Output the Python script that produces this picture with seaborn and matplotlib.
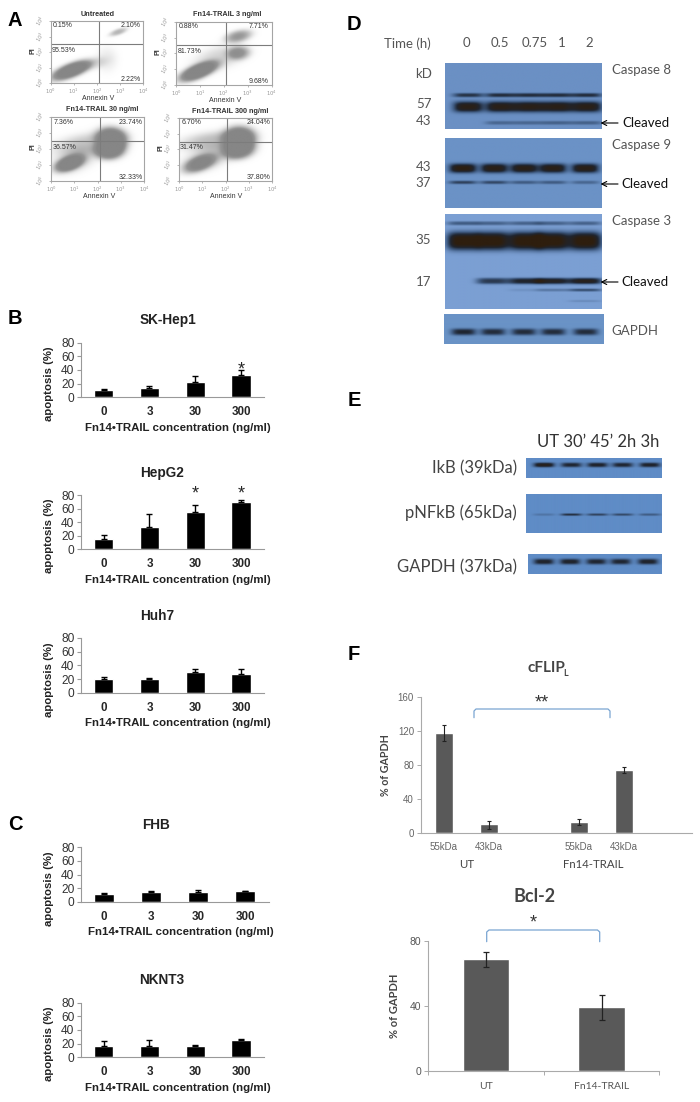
import numpy as np
import pandas as pd
import matplotlib
matplotlib.use('Agg')
import matplotlib.pyplot as plt
from matplotlib.colors import LinearSegmentedColormap
import seaborn as sns

W, H = 700, 1102

# B / C apoptosis bars (mean, upper error)
doses = ['0', '3', '30', '300']
skhep1_vals = [10.5, 14, 23, 32.5]
skhep1_errs = [1.5, 2, 8, 8]
hepg2_vals = [14.5, 33.5, 55, 69.5]
hepg2_errs = [7, 18, 11, 3]
huh7_vals = [19.5, 20.5, 30.5, 27.5]
huh7_errs = [3, 0.5, 4, 7]
fhb_vals = [11, 14.5, 14.5, 15.5]
fhb_errs = [1.5, 1, 3, 0.5]
nknt3_vals = [16, 16.5, 16, 25.5]
nknt3_errs = [8.5, 9, 2.5, 2]

# F densitometry
cflip_cats = ['UT 55', 'UT 43', 'gap', 'Fn14 55', 'Fn14 43', 'end']
cflip_labels = ['55kDa', '43kDa', '', '55kDa', '43kDa', '']
cflip_vals = [118, 10.5, np.nan, 13, 74, np.nan]
cflip_low = [9.5, 5.5, np.nan, 3, 3.5, np.nan]
cflip_high = [10, 4.5, np.nan, 3.5, 4.5, np.nan]
bcl2_cats = ['UT', 'Fn14-TRAIL']
bcl2_vals = [69, 39]
bcl2_low = [5, 8]
bcl2_high = [4, 8]

# A flow cytometry: quadrant percentages UL, UR, LL, LR
flow_titles = ['Untreated', 'Fn14-TRAIL 3 ng/ml', 'Fn14-TRAIL 30 ng/ml', 'Fn14-TRAIL 300 ng/ml']
flow_pcts = [['0.15%', '2.10%', '95.53%', '2.22%'],
             ['0.88%', '7.71%', '81.73%', '9.68%'],
             ['7.36%', '23.74%', '36.57%', '32.33%'],
             ['6.70%', '24.04%', '31.47%', '37.80%']]
# gate position in log decades (x, y)
flow_gates = [(2.1, 2.55), (2.07, 2.5), (2.1, 2.5), (2.08, 2.45)]
# cell populations: x, y, long sd, short sd, angle, density
flow_clouds = [
    [(0.88, 0.8, 0.72, 0.3, 33, 1.5), (2.9, 3.25, 0.32, 0.14, 30, 0.45), (2.4, 1.5, 0.35, 0.6, 0, 0.12), (1.9, 1.2, 0.5, 0.25, 30, 0.15)],
    [(0.93, 0.84, 0.68, 0.3, 35, 1.5), (2.6, 2.0, 0.37, 0.32, 20, 0.65), (2.6, 3.05, 0.45, 0.27, 25, 0.65), (1.8, 1.7, 0.9, 0.5, 30, 0.25)],
    [(0.8, 1.1, 0.52, 0.3, 35, 1.3), (2.61, 2.67, 0.48, 0.52, 40, 1.4), (2.53, 1.94, 0.48, 0.42, 20, 1.4), (1.5, 2.3, 1.1, 0.5, 15, 0.35), (1.0, 1.3, 0.8, 0.5, 35, 0.3)],
    [(0.9, 1.1, 0.6, 0.32, 35, 0.95), (2.6, 2.7, 0.52, 0.52, 40, 1.4), (2.55, 1.96, 0.52, 0.42, 20, 1.3), (1.5, 2.5, 1.1, 0.45, 10, 0.4), (1.2, 1.4, 0.9, 0.5, 30, 0.3)],
]

# D / E blots: lane centres, then rows of (row centre, half height, lane intensities)
casp8_lanes = [0.147, 0.354, 0.537, 0.718, 0.904]
casp8_rows = [(0.487, 0.032, [0.8, 0.85, 0.85, 0.85, 0.85]),
              (0.665, 0.085, [1.15, 1.15, 1.15, 1.15, 1.15]),
              (0.909, 0.028, [0, 0.4, 0.4, 0.45, 0.45])]
casp9_lanes = [0.113, 0.313, 0.504, 0.687, 0.894]
casp9_rows = [(0.44, 0.068, [1.2, 1.15, 1.15, 1.15, 1.15]),
              (0.64, 0.024, [0.7, 0.65, 0.5, 0.5, 0.4])]
casp3_lanes = [0.117, 0.304, 0.511, 0.687, 0.894]
casp3_rows = [(0.105, 0.02, [0.5, 0.45, 0.45, 0.45, 0.45]),
              (0.29, 0.095, [1.3, 1.3, 1.3, 1.3, 1.3]),
              (0.71, 0.032, [0, 0.75, 0.95, 1.05, 1.1]),
              (0.804, 0.015, [0, 0, 0.1, 0.3, 0.6]),
              (0.92, 0.012, [0, 0, 0, 0, 0.15])]
gapdh_d_lanes = [0.122, 0.306, 0.499, 0.683, 0.887]
gapdh_d_rows = [(0.61, 0.11, [0.9, 0.85, 0.85, 0.85, 0.85])]
ikb_lanes = [0.132, 0.333, 0.525, 0.711, 0.912]
ikb_rows = [(0.345, 0.12, [1.1, 0.9, 0.95, 0.9, 0.95])]
pnfkb_rows = [(0.54, 0.03, [0.25, 0.85, 0.7, 0.65, 0.5])]
gapdh_e_lanes = [0.117, 0.313, 0.51, 0.692, 0.896]
gapdh_e_rows = [(0.41, 0.14, [0.95, 0.95, 0.9, 0.9, 0.95])]

sns.set_style('ticks')
plt.rcParams['font.family'] = ['Liberation Sans', 'DejaVu Sans']
CALIBRI = ['Lato', 'DejaVu Sans']

fig = plt.figure(figsize=(W / 100, H / 100), dpi=100)
fig.patch.set_facecolor('white')


def px_axes(left, top, right, bottom):
    return fig.add_axes([left / W, 1 - bottom / H, (right - left) / W, (bottom - top) / H])


# overlay in picture pixels, used for labels only
ov = fig.add_axes([0, 0, 1, 1], zorder=10)
ov.set_xlim(0, W)
ov.set_ylim(H, 0)
ov.axis('off')
ov.patch.set_alpha(0)


def label(x, y, s, **kw):
    kw.setdefault('ha', 'center')
    kw.setdefault('va', 'center')
    ov.text(x, y, s, **kw)


def apoptosis_panel(rect, title, vals, errs, title_x, stars=()):
    left, top, right, bottom = rect
    ax = px_axes(left, top, right, bottom)
    df = pd.DataFrame({'dose': doses, 'value': vals})
    sns.barplot(data=df, x='dose', y='value', color='black', saturation=1, width=0.42,
                errorbar=None, ax=ax)
    ax.errorbar(range(4), vals, yerr=[[0] * 4, errs], fmt='none', ecolor='black',
                elinewidth=1, capsize=2.2, capthick=1, clip_on=False)
    ax.set_xlim(-0.5, 3.5)
    ax.set_ylim(0, 80)
    ax.set_yticks([0, 20, 40, 60, 80])
    ax.set_xlabel('')
    ax.set_ylabel('')
    ax.tick_params(axis='x', length=0, pad=6.5, labelsize=8.4)
    ax.tick_params(axis='y', length=3, width=0.8, color='#999999', pad=1.5, labelsize=8.6,
                   labelcolor='#333333')
    for t in ax.get_xticklabels():
        t.set_fontweight('bold')
    sns.despine(ax=ax)
    ax.spines['left'].set_color('#999999')
    ax.spines['bottom'].set_color('#999999')
    for pos, level in stars:
        ax.text(pos, level, '*', ha='center', va='center', fontsize=13, clip_on=False)
    label(title_x, top - 22.5, title, fontsize=9.8, fontweight='bold', color='#222222')
    label((left + right) / 2 + 6, bottom + 30.5, 'Fn14•TRAIL concentration (ng/ml)', fontsize=8.25,
          fontweight='bold', color='#222222')
    label(48.5, (top + bottom) / 2 + 14, 'apoptosis (%)', rotation=90, fontsize=8.2,
          fontweight='bold', color='#222222')


def flow_panel(rect, title, title_xy, pcts, gate, clouds):
    left, top, right, bottom = rect
    ax = px_axes(left, top, right, bottom)
    xs, ys = np.meshgrid(np.linspace(0, 4, 240), np.linspace(0, 4, 180))
    dens = np.zeros_like(xs)
    for cx, cy, long_sd, short_sd, angle, level in clouds:
        a = np.deg2rad(angle)
        u = np.cos(a) * (xs - cx) + np.sin(a) * (ys - cy)
        v = -np.sin(a) * (xs - cx) + np.cos(a) * (ys - cy)
        dens += level * np.exp(-0.5 * ((u / long_sd) ** 2 + (v / short_sd) ** 2) ** 1.4)
    cmap = LinearSegmentedColormap.from_list('flow', ['#ffffff', '#c8c8c8', '#959595', '#868686'])
    ax.imshow(dens, extent=(0, 4, 0, 4), origin='lower', aspect='auto', cmap=cmap, vmin=0, vmax=1,
              interpolation='bilinear')
    ax.axvline(gate[0], color='#7c7c7c', lw=0.8)
    ax.axhline(gate[1], color='#7c7c7c', lw=0.8)
    ax.set_xlim(0, 4)
    ax.set_ylim(0, 4)
    ticks = [0, 1, 2, 3, 4]
    ax.set_xticks(ticks, [f'$10^{t}$' for t in ticks])
    ax.set_yticks(ticks, [f'$10^{t}$' for t in ticks], rotation=60, va='center')
    ax.tick_params(length=1.5, width=0.5, color='#999999', labelsize=3.8, labelcolor='#999999',
                   pad=1)
    for s in ax.spines.values():
        s.set_color('#a5a5a5')
        s.set_linewidth(0.8)
    spots = [(0.13, 0.92), (0.86, 0.92), (0.14, 0.53), (0.86, 0.06)]
    for (fx, fy), txt in zip(spots, pcts):
        ax.text(fx, fy, txt, transform=ax.transAxes, ha='center', va='center', fontsize=5,
                color='#333333')
    label(title_xy[0], title_xy[1], title, fontsize=5.2, fontweight='bold', color='#333333')
    label((left + right) / 2 + 1, bottom + 15.5, 'Annexin V', fontsize=5, color='#333333')
    label(left - 18, (top + bottom) / 2 - 2, 'PI', rotation=90, fontsize=5, fontweight='bold',
          color='#333333')


def blot(rect, lanes, rows, half_w, bg):
    ax = px_axes(*rect)
    xs, ys = np.meshgrid(np.linspace(0, 1, 320), np.linspace(0, 1, 160))
    img = np.zeros_like(xs)
    for row_y, half_h, levels in rows:
        for lane, level in zip(lanes, levels):
            img += level * np.exp(-np.abs((xs - lane) / half_w) ** 4) * np.exp(-np.abs((ys - row_y) / half_h) ** 3)
    cmap = LinearSegmentedColormap.from_list('blot', [(0, bg), (0.4, '#3f5b82'), (0.72, '#1f2530'), (1, '#2e1e0e')])
    ax.imshow(img, extent=(0, 1, 1, 0), aspect='auto', cmap=cmap, vmin=0, vmax=1.25,
              interpolation='bilinear')
    ax.axis('off')


# --- A
flow_rects = [(50.7, 21, 143.3, 83.3), (176, 21.7, 271.7, 85), (51.3, 117, 144, 181), (179, 117.7, 272, 181)]
flow_title_xy = [(98, 14), (226.7, 15), (102, 109.3), (230, 111.3)]
for i in range(4):
    flow_panel(flow_rects[i], flow_titles[i], flow_title_xy[i], flow_pcts[i], flow_gates[i], flow_clouds[i])

# --- B, C
apoptosis_panel((80.7, 342.7, 264, 397.3), 'SK-Hep1', skhep1_vals, skhep1_errs, 168, stars=[(3, 40)])
apoptosis_panel((80.7, 495, 264, 549.3), 'HepG2', hepg2_vals, hepg2_errs, 162, stars=[(2, 81.5), (3, 81.5)])
apoptosis_panel((80.7, 638, 264, 692.7), 'Huh7', huh7_vals, huh7_errs, 157)
apoptosis_panel((80.7, 847.3, 268.7, 901.7), 'FHB', fhb_vals, fhb_errs, 156)
apoptosis_panel((80.7, 1002.7, 264, 1057.3), 'NKNT3', nknt3_vals, nknt3_errs, 162)

# --- D
blot((445.3, 63, 601.7, 128.7), casp8_lanes, casp8_rows, 0.098, '#6b90c4')
blot((445, 137.7, 601.7, 208), casp9_lanes, casp9_rows, 0.09, '#6b92c6')
blot((445, 214, 601.7, 309.3), casp3_lanes, casp3_rows, 0.105, '#7b9fd3')
blot((444, 313.7, 603, 343.7), gapdh_d_lanes, gapdh_d_rows, 0.08, '#6a93c6')

GREY = '#555555'
label(407.7, 43.3, 'Time (h)', fontsize=9.5, color=GREY, family=CALIBRI)
for x, s in zip([466, 500, 535, 561.7, 589], ['0', '0.5', '0.75', '1', '2']):
    label(x, 43.3, s, fontsize=9.5, color=GREY, family=CALIBRI)
for y, s in zip([74, 104, 120.7, 166.7, 183, 240, 282], ['kD', '57', '43', '43', '37', '35', '17']):
    label(423.5, y, s, fontsize=9.5, color=GREY, family=CALIBRI)
for y, s in zip([70, 145, 221, 331], ['Caspase 8', 'Caspase 9', 'Caspase 3', 'GAPDH']):
    label(611.7, y, s, ha='left', fontsize=9.5, color=GREY, family=CALIBRI)
for y, tx in zip([123, 184, 282], [622, 621, 621]):
    ov.annotate('', xy=(600.5, y), xytext=(618, y),
                arrowprops=dict(arrowstyle='->', color='black', lw=0.8, shrinkA=0, shrinkB=0, mutation_scale=9))
    label(tx, y, 'Cleaved', ha='left', fontsize=9.5, color='#111111', family=CALIBRI)

# --- E
blot((526, 458.3, 662, 477.7), ikb_lanes, ikb_rows, 0.08, '#5f8cc6')
blot((526, 494, 662, 533.3), ikb_lanes, pnfkb_rows, 0.08, '#5f8cc6')
blot((528, 554, 662, 574.3), gapdh_e_lanes, gapdh_e_rows, 0.08, '#5f8cc6')
label(598.5, 442, 'UT 30’ 45’ 2h 3h', fontsize=12, color='#333333', family=CALIBRI)
for y, s in zip([468, 512.7, 567], ['IkB (39kDa)', 'pNFkB (65kDa)', 'GAPDH (37kDa)']):
    label(516.7, y, s, ha='right', fontsize=12, color='#444444', family=CALIBRI)

# --- F cFLIP
ax = px_axes(421, 697.3, 691.7, 833.3)
cflip_df = pd.DataFrame({'band': cflip_cats, 'value': cflip_vals})
sns.barplot(data=cflip_df, x='band', y='value', color='#595959', saturation=1, width=0.4,
            errorbar=None, ax=ax)
ax.errorbar(range(6), cflip_vals, yerr=[cflip_low, cflip_high], fmt='none', ecolor='#222222',
            elinewidth=0.8, capsize=1.6, capthick=0.8)
ax.set_xlim(-0.5, 5.5)
ax.set_ylim(0, 160)
ax.set_yticks([0, 40, 80, 120, 160])
ax.set_xticks(range(6), cflip_labels)
ax.set_xlabel('')
ax.set_ylabel('')
ax.tick_params(axis='x', length=0, pad=6, labelsize=7, labelcolor='#666666')
ax.tick_params(axis='y', length=3, width=0.7, color='#aaaaaa', pad=2, labelsize=7, labelcolor='#666666')
sns.despine(ax=ax)
ax.spines['left'].set_color('#aaaaaa')
ax.spines['bottom'].set_color('#aaaaaa')

label(546.5, 668, 'cFLIP', fontsize=11, fontweight='bold', color='#444444', family=CALIBRI)
label(566, 673, 'L', fontsize=6.5, fontweight='bold', color='#444444', family=CALIBRI)
label(467, 864, 'UT', fontsize=8.2, color='#444444', family=CALIBRI)
label(593, 864, 'Fn14-TRAIL', fontsize=8.2, color='#444444', family=CALIBRI)
label(385.7, 765, '% of GAPDH', rotation=90, fontsize=7.7, fontweight='bold', color='#444444', family=CALIBRI)
label(542, 703, '**', fontsize=13, color='#333333')
ov.plot([474, 474, 476, 608, 610, 610], [717.7, 711, 709, 709, 711, 717.7], color='#7aa5d2', lw=0.9)

# --- F Bcl-2
ax = px_axes(428.3, 941, 659.3, 1070.7)
bcl2_df = pd.DataFrame({'group': bcl2_cats, 'value': bcl2_vals})
sns.barplot(data=bcl2_df, x='group', y='value', color='#595959', saturation=1, width=0.4,
            errorbar=None, ax=ax)
ax.errorbar(range(2), bcl2_vals, yerr=[bcl2_low, bcl2_high], fmt='none', ecolor='#222222',
            elinewidth=0.9, capsize=2.2, capthick=0.9)
ax.set_xlim(-0.5, 1.5)
ax.set_ylim(0, 80)
ax.set_yticks([0, 40, 80])
ax.set_xticks([-0.5, 0.5, 1.5], minor=True)
ax.set_xlabel('')
ax.set_ylabel('')
ax.tick_params(axis='x', which='major', length=0, pad=8, labelsize=7.5, labelcolor='#555555')
ax.tick_params(axis='x', which='minor', length=3, width=0.7, color='#aaaaaa')
ax.tick_params(axis='y', length=3, width=0.7, color='#aaaaaa', pad=2, labelsize=7.5, labelcolor='#555555')
for t in ax.get_xticklabels():
    t.set_family(CALIBRI)
sns.despine(ax=ax)
ax.spines['left'].set_color('#aaaaaa')
ax.spines['bottom'].set_color('#aaaaaa')

label(534.7, 897, 'Bcl-2', fontsize=13, fontweight='bold', color='#444444', family=CALIBRI)
label(394, 1006, '% of GAPDH', rotation=90, fontsize=8, fontweight='bold', color='#444444', family=CALIBRI)
label(533, 923, '*', fontsize=13, color='#333333')
ov.plot([486.7, 486.7, 489, 597.5, 599.7, 599.7], [941.7, 932, 930, 930, 932, 941.7], color='#7aa5d2', lw=0.9)

# --- panel letters
for x, y, s in [(15, 20, 'A'), (15, 318, 'B'), (15, 825, 'C'), (354, 25, 'D'), (354, 400, 'E'), (354, 654, 'F')]:
    label(x, y, s, fontsize=14.5, fontweight='bold', color='black')

fig.savefig('out.png', dpi=100)
